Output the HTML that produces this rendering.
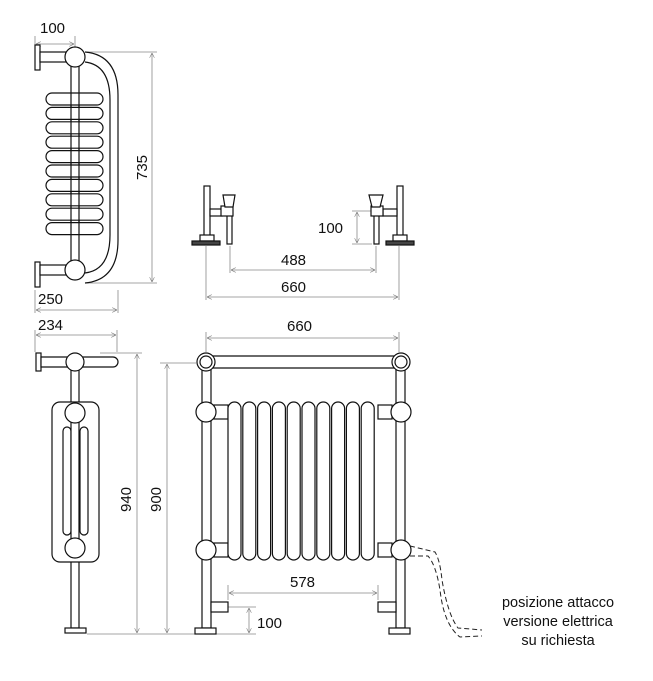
<!DOCTYPE html>
<html><head><meta charset="utf-8"><style>
html,body{margin:0;padding:0;background:#fff}
svg{display:block}
text{font-family:"Liberation Sans",sans-serif;fill:#111}
</style></head><body>
<svg width="653" height="681" viewBox="0 0 653 681" xmlns="http://www.w3.org/2000/svg">
<defs>
<marker id="a" viewBox="0 0 10 10" refX="10" refY="5" markerWidth="6" markerHeight="6" orient="auto-start-reverse"><path d="M0,0 L10,5 L0,10" fill="none" stroke="#777" stroke-width="1.2"/></marker>
</defs>
<g stroke="#888" stroke-width="0.8" fill="none">
<!-- top-left dims -->
<line x1="35" y1="36" x2="35" y2="48"/><line x1="75" y1="36" x2="75" y2="48"/>
<line x1="36" y1="44" x2="74" y2="44" marker-start="url(#a)" marker-end="url(#a)"/>
<line x1="86" y1="52" x2="157" y2="52"/><line x1="86" y1="283" x2="157" y2="283"/>
<line x1="152" y1="53" x2="152" y2="282" marker-start="url(#a)" marker-end="url(#a)"/>
<line x1="35" y1="290" x2="35" y2="313"/><line x1="118" y1="290" x2="118" y2="313"/>
<line x1="36" y1="310" x2="117" y2="310" marker-start="url(#a)" marker-end="url(#a)"/>
<!-- top-mid dims -->
<line x1="206" y1="246" x2="206" y2="300"/><line x1="399" y1="246" x2="399" y2="300"/>
<line x1="230" y1="246" x2="230" y2="273"/><line x1="376" y1="246" x2="376" y2="273"/>
<line x1="231" y1="270" x2="375" y2="270" marker-start="url(#a)" marker-end="url(#a)"/>
<line x1="207" y1="297" x2="398" y2="297" marker-start="url(#a)" marker-end="url(#a)"/>
<line x1="352" y1="211" x2="372" y2="211"/><line x1="352" y1="244" x2="372" y2="244"/>
<line x1="357" y1="212" x2="357" y2="243" marker-start="url(#a)" marker-end="url(#a)"/>
<!-- bottom-left dims -->
<line x1="35" y1="330" x2="35" y2="352"/><line x1="117" y1="330" x2="117" y2="352"/>
<line x1="36" y1="335" x2="116" y2="335" marker-start="url(#a)" marker-end="url(#a)"/>
<line x1="100" y1="353" x2="142" y2="353"/><line x1="87" y1="634" x2="172" y2="634"/>
<line x1="137" y1="354" x2="137" y2="633" marker-start="url(#a)" marker-end="url(#a)"/>
<line x1="160" y1="363" x2="196" y2="363"/>
<line x1="167" y1="364" x2="167" y2="633" marker-start="url(#a)" marker-end="url(#a)"/>
<line x1="172" y1="634" x2="195" y2="634"/>
<!-- front dims -->
<line x1="206" y1="332" x2="206" y2="352"/><line x1="399" y1="332" x2="399" y2="352"/>
<line x1="207" y1="338" x2="398" y2="338" marker-start="url(#a)" marker-end="url(#a)"/>
<line x1="228" y1="585" x2="228" y2="600"/><line x1="378" y1="585" x2="378" y2="600"/>
<line x1="229" y1="593" x2="377" y2="593" marker-start="url(#a)" marker-end="url(#a)"/>
<line x1="228" y1="607" x2="256" y2="607"/><line x1="216" y1="634" x2="256" y2="634"/>
<line x1="249" y1="608" x2="249" y2="633" marker-start="url(#a)" marker-end="url(#a)"/>
</g>

<g stroke="#111" stroke-width="1.2" fill="#fff">
<!-- top-left side view -->
<path d="M85,52 Q118,55 118,95 L118,240 Q118,280 85,283" fill="none"/>
<path d="M85,62 Q110,65 110,100 L110,235 Q110,270 85,273" fill="none"/>
<rect x="71" y="62" width="8" height="200"/>
<rect x="35" y="45" width="5" height="25"/><rect x="40" y="52" width="26" height="10"/>
<rect x="35" y="262" width="5" height="25"/><rect x="40" y="265" width="26" height="10"/>
<circle cx="75" cy="57" r="10"/><circle cx="75" cy="270" r="10"/>
<rect x="46" y="93" width="57" height="12" rx="6"/><rect x="46" y="107.4" width="57" height="12" rx="6"/>
<rect x="46" y="121.8" width="57" height="12" rx="6"/><rect x="46" y="136.2" width="57" height="12" rx="6"/>
<rect x="46" y="150.6" width="57" height="12" rx="6"/><rect x="46" y="165" width="57" height="12" rx="6"/>
<rect x="46" y="179.4" width="57" height="12" rx="6"/><rect x="46" y="193.8" width="57" height="12" rx="6"/>
<rect x="46" y="208.2" width="57" height="12" rx="6"/><rect x="46" y="222.6" width="57" height="12" rx="6"/>
<line x1="71" y1="93" x2="71" y2="235"/><line x1="79" y1="93" x2="79" y2="235"/>

<!-- top-mid plan view -->
<rect x="204" y="186" width="6" height="50"/><rect x="200" y="235" width="14" height="6"/>
<rect x="192" y="241" width="28" height="4" fill="#444"/>
<rect x="210" y="209" width="12" height="7"/><rect x="227" y="210" width="5" height="34"/>
<rect x="221" y="206" width="12" height="10"/><path d="M223,195 h12 l-2,12 h-8 z"/>
<rect x="397" y="186" width="6" height="50"/><rect x="393" y="235" width="14" height="6"/>
<rect x="386" y="241" width="28" height="4" fill="#444"/>
<rect x="383" y="209" width="14" height="7"/><rect x="374" y="210" width="5" height="34"/>
<rect x="371" y="206" width="12" height="10"/><path d="M369,195 h14 l-3,12 h-8 z"/>

<!-- bottom-left side view -->
<rect x="71" y="368" width="8" height="260"/>
<rect x="36" y="353" width="5" height="18"/>
<path d="M41,357 H113 A5,5 0 0 1 113,367 H41 Z"/>
<circle cx="75" cy="362" r="9"/>
<rect x="52" y="402" width="47" height="160" rx="8"/>
<rect x="63" y="427" width="8" height="108" rx="4"/><rect x="80" y="427" width="8" height="108" rx="4"/>
<rect x="71" y="420" width="8" height="122"/>
<circle cx="75" cy="413" r="10"/><circle cx="75" cy="548" r="10"/>
<rect x="65" y="628" width="21" height="5"/>

<!-- front view -->
<rect x="202" y="368" width="9" height="260"/><rect x="396" y="368" width="9" height="260"/>
<rect x="206" y="356" width="197" height="12" rx="6"/>
<circle cx="206" cy="362" r="9"/><circle cx="206" cy="362" r="6"/>
<circle cx="401" cy="362" r="9"/><circle cx="401" cy="362" r="6"/>
<rect x="214" y="405" width="14" height="14"/><rect x="378" y="405" width="14" height="14"/>
<rect x="214" y="543" width="14" height="14"/><rect x="378" y="543" width="14" height="14"/>
<rect x="228" y="402" width="13" height="158" rx="6.5"/><rect x="242.8" y="402" width="13" height="158" rx="6.5"/>
<rect x="257.6" y="402" width="13" height="158" rx="6.5"/><rect x="272.4" y="402" width="13" height="158" rx="6.5"/>
<rect x="287.2" y="402" width="13" height="158" rx="6.5"/><rect x="302" y="402" width="13" height="158" rx="6.5"/>
<rect x="316.8" y="402" width="13" height="158" rx="6.5"/><rect x="331.6" y="402" width="13" height="158" rx="6.5"/>
<rect x="346.4" y="402" width="13" height="158" rx="6.5"/><rect x="361.2" y="402" width="13" height="158" rx="6.5"/>
<circle cx="206" cy="412" r="10"/><circle cx="401" cy="412" r="10"/>
<circle cx="206" cy="550" r="10"/><circle cx="401" cy="550" r="10"/>
<rect x="211" y="602" width="17" height="10"/><rect x="378" y="602" width="18" height="10"/>
<rect x="195" y="628" width="21" height="6"/><rect x="389" y="628" width="21" height="6"/>
</g>
<path d="M410,546 L435,552 Q440,560 442,580 Q448,615 458,628 L482,630 M410,556 L428,556 Q436,565 440,590 Q444,625 460,637 L482,636" fill="none" stroke="#222" stroke-width="1" stroke-dasharray="5,3"/>

<g font-size="15">
<text x="40" y="33">100</text>
<text x="38" y="304">250</text>
<text x="38" y="330">234</text>
<text x="281" y="265">488</text>
<text x="281" y="292">660</text>
<text x="318" y="233">100</text>
<text x="287" y="331">660</text>
<text x="290" y="587">578</text>
<text x="257" y="628">100</text>
<text transform="translate(147,180) rotate(-90)">735</text>
<text transform="translate(131,512) rotate(-90)">940</text>
<text transform="translate(161,512) rotate(-90)">900</text>
</g>
<g font-size="14.5" text-anchor="middle">
<text x="558" y="607">posizione attacco</text>
<text x="558" y="626">versione elettrica</text>
<text x="558" y="645">su richiesta</text>
</g>
</svg>
</body></html>
